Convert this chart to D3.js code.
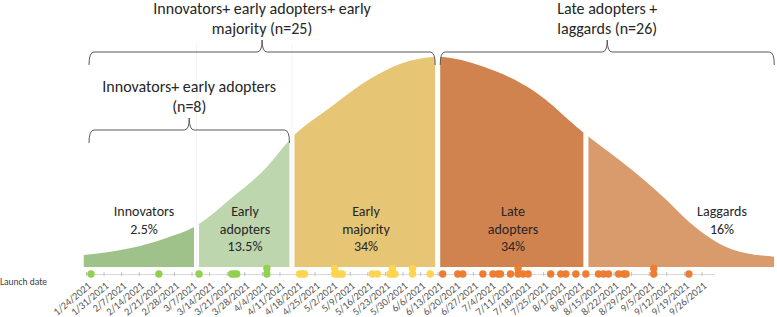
<!DOCTYPE html>
<html>
<head>
<meta charset="utf-8">
<script src="https://cdn.jsdelivr.net/npm/d3@7"></script>
<style>
  body { margin: 0; background: #fff; }
  svg { display: block; font-family: Carlito, Calibri, Lato, sans-serif; }
</style>
</head>
<body>
<svg id="chart" width="777" height="317"></svg>
<script>
// ----------------------------------------------------------------------------
// Data: adopter segments, bell curve outline, launch dates
// ----------------------------------------------------------------------------

const segLabels = [
  ['Innovators', '2.5%'],
  ['Early', 'adopters', '13.5%'],
  ['Early', 'majority', '34%'],
  ['Late', 'adopters', '34%'],
  ['Laggards', '16%']
];
const segStart = ['2021-01-23', '2021-03-10', '2021-04-17', '2021-06-14', '2021-08-12'];
const segEnd   = ['2021-03-08', '2021-04-15', '2021-06-12', '2021-08-10', '2021-10-25'];
const segColors = ['#9fc28a', '#bdd6ad', '#e6c574', '#d0834f', '#d99a6c'];

// outline of the curve, height in % of the peak
const curveDates  = ['2021-01-23', '2021-02-11', '2021-02-25', '2021-03-08', '2021-03-23', '2021-04-06',
                     '2021-04-15', '2021-05-02', '2021-05-17', '2021-05-29', '2021-06-13', '2021-07-01',
                     '2021-07-21', '2021-08-10', '2021-08-29', '2021-09-12', '2021-09-21', '2021-10-08', '2021-10-25'];
const curveHeight = [5.7, 9, 13.8, 19, 33, 47.6,
                     60.5, 76.7, 89.5, 96.7, 100, 95.5,
                     84, 64, 46.5, 32, 21.5, 8.5, 4.9];

// launch dates, one per product
const earlyDates = ['2021-01-26', '2021-02-22', '2021-03-10', '2021-03-23', '2021-03-24', '2021-03-25',
                    '2021-04-06', '2021-04-06'];
const majorityDates = ['2021-04-19', '2021-04-20', '2021-04-21', '2021-05-03', '2021-05-03', '2021-05-04',
                       '2021-05-05', '2021-05-06', '2021-05-18', '2021-05-20', '2021-05-25', '2021-05-26',
                       '2021-05-26', '2021-05-27', '2021-06-03', '2021-06-03', '2021-06-10'];
const lateDates = ['2021-06-15', '2021-06-21', '2021-06-23', '2021-07-01', '2021-07-05', '2021-07-07',
                   '2021-07-08', '2021-07-12', '2021-07-15', '2021-07-15', '2021-07-17', '2021-07-19',
                   '2021-07-28', '2021-08-01', '2021-08-03', '2021-08-07', '2021-08-11', '2021-08-16',
                   '2021-08-18', '2021-08-20', '2021-08-24', '2021-08-26', '2021-08-27', '2021-09-07',
                   '2021-09-07', '2021-09-21'];
const dotColors = ['#92d050', '#ffd44f', '#ed7d31'];

const weekTicks = ['1/24/2021', '1/31/2021', '2/7/2021', '2/14/2021', '2/21/2021', '2/28/2021', '3/7/2021',
                   '3/14/2021', '3/21/2021', '3/28/2021', '4/4/2021', '4/11/2021', '4/18/2021', '4/25/2021',
                   '5/2/2021', '5/9/2021', '5/16/2021', '5/23/2021', '5/30/2021', '6/6/2021', '6/13/2021',
                   '6/20/2021', '6/27/2021', '7/4/2021', '7/11/2021', '7/18/2021', '7/25/2021', '8/1/2021',
                   '8/8/2021', '8/15/2021', '8/22/2021', '8/29/2021', '9/5/2021', '9/12/2021', '9/19/2021',
                   '9/26/2021'];

// braces over groups of segments
const braceLabels = [
  ['Innovators+ early adopters+ early', 'majority (n=25)'],
  ['Innovators+ early adopters', '(n=8)'],
  ['Late adopters +', 'laggards (n=26)']
];
const braceFrom = [0, 0, 3];
const braceTo   = [2, 1, 4];

// ----------------------------------------------------------------------------
// Drawing
// ----------------------------------------------------------------------------

const svg = d3.select('#chart');
const iso = d3.timeParse('%Y-%m-%d');
const mdy = d3.timeParse('%m/%d/%Y');

const axisY = 274;
const xScale = d3.scaleTime()
  .domain([iso('2021-01-24'), iso('2021-10-01')])
  .range([86, 714]);
const yScale = d3.scaleLinear()
  .domain([0, 100])
  .range([267, 57]);

const curveData = curveDates.map((d, i) => ({date: iso(d), h: curveHeight[i]}));
const bell = d3.area()
  .x(d => xScale(d.date))
  .y0(yScale(0))
  .y1(d => yScale(d.h))
  .curve(d3.curveMonotoneX);

// faint guide lines
[0, 1].forEach(i => {
  const gx = (xScale(iso(segEnd[i])) + xScale(iso(segStart[i + 1]))) / 2;
  svg.append('line')
    .attr('x1', gx).attr('x2', gx)
    .attr('y1', 43).attr('y2', yScale(0))
    .attr('stroke', '#f3f3f3')
    .attr('stroke-width', 1);
});

// segments of the curve
const defs = svg.append('defs');
segLabels.forEach((lab, i) => {
  const x0 = xScale(iso(segStart[i]));
  const x1 = xScale(iso(segEnd[i]));
  defs.append('clipPath').attr('id', `seg${i}`)
    .append('rect')
    .attr('x', x0).attr('y', 0)
    .attr('width', x1 - x0).attr('height', yScale(0));

  svg.append('path')
    .attr('d', bell(curveData))
    .attr('fill', segColors[i])
    .attr('clip-path', `url(#seg${i})`);
});

// segment labels
const labelX = [144, 245, 366, 513, 722];
segLabels.forEach((lab, i) => {
  const t = svg.append('text')
    .attr('text-anchor', 'middle')
    .attr('font-size', 14)
    .attr('fill', '#262626');
  lab.forEach((line, j) => {
    t.append('tspan')
      .attr('x', labelX[i])
      .attr('y', 216 + j * 17.5)
      .text(line);
  });
});

// braces and their titles
braceLabels.forEach((lab, i) => {
  let x0 = Math.max(xScale(iso(segStart[braceFrom[i]])), xScale.range()[0] + 3);
  const x1 = xScale(iso(segEnd[braceTo[i]]));
  const xc = (x0 + x1) / 2;
  const yb = i == 1 ? 130 : 52;
  const path = `M${x0},${yb + 13} Q${x0},${yb} ${x0 + 5},${yb} L${xc - 5},${yb} Q${xc},${yb} ${xc},${yb - 12}` +
               ` Q${xc},${yb} ${xc + 5},${yb} L${x1 - 5},${yb} Q${x1},${yb} ${x1},${yb + 13}`;
  svg.append('path')
    .attr('d', path)
    .attr('fill', 'none')
    .attr('stroke', '#595959')
    .attr('stroke-width', 1);

  const t = svg.append('text')
    .attr('text-anchor', 'middle')
    .attr('font-size', 16)
    .attr('fill', '#262626');
  lab.forEach((line, j) => {
    t.append('tspan')
      .attr('x', xc)
      .attr('y', yb - 12 - 6 - (1 - j) * 20)
      .text(line);
  });
});

// launch date axis
const axisG = svg.append('g')
  .attr('transform', `translate(0,${axisY})`)
  .call(d3.axisBottom(xScale)
    .tickValues(weekTicks.map(mdy))
    .tickFormat(d3.timeFormat('%-m/%-d/%Y'))
    .tickSizeOuter(0));

axisG.select('.domain').attr('stroke', '#d9d9d9');
axisG.selectAll('.tick line')
  .attr('y1', -2).attr('y2', 2)
  .attr('stroke', '#bfbfbf');
axisG.selectAll('.tick text')
  .attr('font-family', 'Carlito, Calibri, Lato, sans-serif')
  .attr('font-size', 10.5)
  .attr('fill', '#595959')
  .attr('text-anchor', 'end')
  .attr('y', 0)
  .attr('dy', '0.35em')
  .attr('transform', 'translate(3,10) rotate(-40)');

svg.append('text')
  .attr('x', 0).attr('y', 285)
  .attr('font-size', 9.5)
  .attr('fill', '#404040')
  .text('Launch date');

// dots, stacked when dates repeat
const dotGroups = [earlyDates, majorityDates, lateDates];
const seen = {};
dotGroups.forEach((dates, g) => {
  const dots = dates.map(d => {
    seen[d] = (seen[d] || 0) + 1;
    return {date: iso(d), level: seen[d] - 1};
  });
  svg.append('g').selectAll('circle')
    .data(dots)
    .enter()
    .append('circle')
    .attr('cx', d => xScale(d.date))
    .attr('cy', d => axisY - d.level * 5.5)
    .attr('r', 3.7)
    .attr('fill', dotColors[g]);
});
</script>
</body>
</html>
